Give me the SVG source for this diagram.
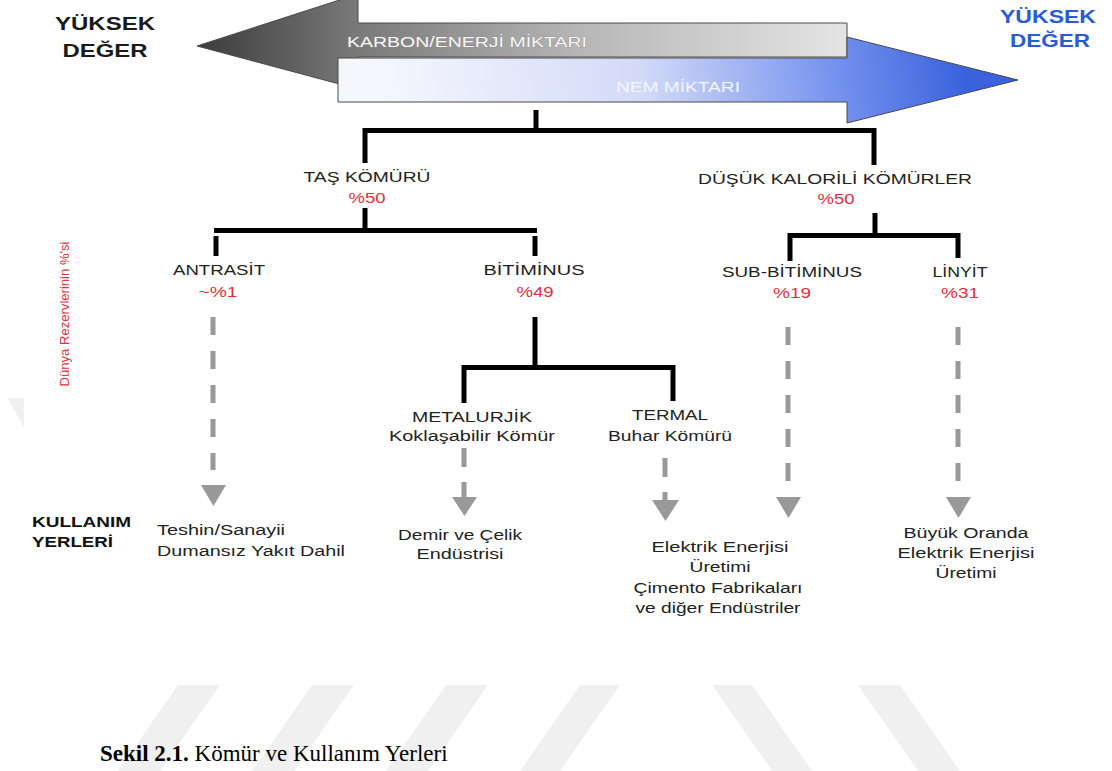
<svg xmlns="http://www.w3.org/2000/svg" width="1112" height="771" viewBox="0 0 1112 771">
<defs>
<style>
.lbl{font-family:"Liberation Sans",Arial,sans-serif;font-size:14px;fill:#222;text-anchor:middle}
.pct{font-family:"Liberation Sans",Arial,sans-serif;font-size:14px;fill:#e0303c;text-anchor:middle}
.use{font-family:"Liberation Sans",Arial,sans-serif;font-size:14px;fill:#222;text-anchor:middle}
.hd{font-family:"Liberation Sans",Arial,sans-serif;font-size:19px;font-weight:bold;text-anchor:middle}
.blk{fill:none;stroke:#000;stroke-width:5}
.dash{fill:none;stroke:#999;stroke-width:5}
.tri{fill:#999}
.wm{fill:#f0f0f0}
</style>
<linearGradient id="gGray" gradientUnits="userSpaceOnUse" x1="197" y1="0" x2="847" y2="0">
<stop offset="0" stop-color="#3c3c3c"/>
<stop offset="0.25" stop-color="#7a7a7a"/>
<stop offset="0.6" stop-color="#b8b8b8"/>
<stop offset="1" stop-color="#e4e4e4"/>
</linearGradient>
<linearGradient id="gBlue" gradientUnits="userSpaceOnUse" x1="380" y1="110" x2="960" y2="30">
<stop offset="0" stop-color="#f6f7fd"/>
<stop offset="0.45" stop-color="#d2daf8"/>
<stop offset="0.8" stop-color="#6f8ded"/>
<stop offset="1" stop-color="#3a62dc"/>
</linearGradient>
</defs>
<rect width="1112" height="771" fill="#fff"/>

<g id="watermark">
<polygon class="wm" points="7,398 24,398 24,427"/>
<polygon class="wm" points="178,685 220,685 160,771 118,771"/>
<polygon class="wm" points="312,685 354,685 294,771 252,771"/>
<polygon class="wm" points="446,685 488,685 428,771 386,771"/>
<polygon class="wm" points="580,685 620,685 560,771 520,771"/>
<polygon class="wm" points="712,685 752,685 812,771 772,771"/>
<polygon class="wm" points="858,685 900,685 960,771 918,771"/>
</g>

<g id="arrows">
<polygon points="197,46 358,-6 358,23 847,23 847,57 358,57 358,89" fill="url(#gGray)" stroke="#4a4a4a" stroke-width="1"/>
<polygon points="338,58 847,58 847,37 1018,80 847,123 847,102 338,102" fill="url(#gBlue)" stroke="#4a4a4a" stroke-width="1"/>
<text x="467" y="47" font-family="'Liberation Sans',Arial,sans-serif" font-size="14" fill="#f8f8f8" stroke="#8a8a8a" stroke-width="0.6" paint-order="stroke" text-anchor="middle" textLength="240" lengthAdjust="spacingAndGlyphs">KARBON/ENERJİ MİKTARI</text>
<text x="678" y="92" font-family="'Liberation Sans',Arial,sans-serif" font-size="14" fill="#f4f6ff" text-anchor="middle" textLength="124" lengthAdjust="spacingAndGlyphs">NEM MİKTARI</text>
</g>

<g id="hi-left">
<text class="hd" x="105" y="30" fill="#1a1a1a" textLength="100" lengthAdjust="spacingAndGlyphs">YÜKSEK</text>
<text class="hd" x="105" y="57" fill="#1a1a1a" textLength="85" lengthAdjust="spacingAndGlyphs">DEĞER</text>
</g>
<g id="hi-right">
<text class="hd" x="1048" y="23" fill="#2a5bd6" textLength="96" lengthAdjust="spacingAndGlyphs">YÜKSEK</text>
<text class="hd" x="1050" y="47" fill="#2a5bd6" textLength="80" lengthAdjust="spacingAndGlyphs">DEĞER</text>
</g>

<g id="connectors">
<path class="blk" d="M536 110 V130"/>
<path class="blk" d="M365 163 V130.5 H874 V165"/>
<path class="blk" d="M365 208 V230"/>
<path class="blk" d="M214 230.5 H537"/>
<path class="blk" d="M216 236 V256"/>
<path class="blk" d="M535 236 V256"/>
<path class="blk" d="M535 317 V367"/>
<path class="blk" d="M464 403 V367.5 H673 V401"/>
<path class="blk" d="M875 213 V235"/>
<path class="blk" d="M790 261 V235.5 H958 V258"/>
<path class="dash" d="M213 317 V470" stroke-dasharray="18 16"/>
<polygon class="tri" points="201,485 226,485 213.5,506"/>
<path class="dash" d="M464 448 V467 M464 482 V500"/>
<polygon class="tri" points="452,497 477,497 464.5,516"/>
<path class="dash" d="M665 458 V477 M665 492 V502"/>
<polygon class="tri" points="652,500 679,500 665.5,521"/>
<path class="dash" d="M788 327 V482" stroke-dasharray="18 16"/>
<polygon class="tri" points="776,497 801,497 788.5,518"/>
<path class="dash" d="M958 327 V482" stroke-dasharray="18 16"/>
<polygon class="tri" points="946,497 971,497 958.5,518"/>
</g>

<g id="tas-komuru">
<text class="lbl" x="367" y="182" textLength="127" lengthAdjust="spacingAndGlyphs">TAŞ KÖMÜRÜ</text>
<text class="pct" x="367" y="203" textLength="37" lengthAdjust="spacingAndGlyphs">%50</text>
</g>
<g id="dusuk-kalorili">
<text class="lbl" x="835" y="184" textLength="274" lengthAdjust="spacingAndGlyphs">DÜŞÜK KALORİLİ KÖMÜRLER</text>
<text class="pct" x="836" y="204" textLength="37" lengthAdjust="spacingAndGlyphs">%50</text>
</g>
<g id="antrasit">
<text class="lbl" x="219" y="275" textLength="92" lengthAdjust="spacingAndGlyphs">ANTRASİT</text>
<text class="pct" x="218" y="297" textLength="39" lengthAdjust="spacingAndGlyphs">~%1</text>
</g>
<g id="bitiminus">
<text class="lbl" x="534" y="275" textLength="101" lengthAdjust="spacingAndGlyphs">BİTİMİNUS</text>
<text class="pct" x="535" y="297" textLength="37" lengthAdjust="spacingAndGlyphs">%49</text>
</g>
<g id="sub-bitiminus">
<text class="lbl" x="792" y="277" textLength="140" lengthAdjust="spacingAndGlyphs">SUB-BİTİMİNUS</text>
<text class="pct" x="792" y="298" textLength="38" lengthAdjust="spacingAndGlyphs">%19</text>
</g>
<g id="linyit">
<text class="lbl" x="960" y="277" textLength="55" lengthAdjust="spacingAndGlyphs">LİNYİT</text>
<text class="pct" x="960" y="298" textLength="38" lengthAdjust="spacingAndGlyphs">%31</text>
</g>
<g id="metalurjik">
<text class="lbl" x="472" y="422" textLength="120" lengthAdjust="spacingAndGlyphs">METALURJİK</text>
<text class="lbl" x="472" y="441" textLength="166" lengthAdjust="spacingAndGlyphs">Koklaşabilir Kömür</text>
</g>
<g id="termal">
<text class="lbl" x="670" y="420" textLength="76" lengthAdjust="spacingAndGlyphs">TERMAL</text>
<text class="lbl" x="670" y="441" textLength="124" lengthAdjust="spacingAndGlyphs">Buhar Kömürü</text>
</g>

<g id="rezerv-label">
<text transform="translate(69,314) rotate(-90)" font-family="'Liberation Sans',Arial,sans-serif" font-size="12" fill="#e0303c" text-anchor="middle" textLength="145" lengthAdjust="spacingAndGlyphs">Dünya Rezervlerinin %'si</text>
</g>

<g id="kullanim">
<text x="32" y="527" font-family="'Liberation Sans',Arial,sans-serif" font-size="14" font-weight="bold" fill="#111" textLength="99" lengthAdjust="spacingAndGlyphs">KULLANIM</text>
<text x="32" y="547" font-family="'Liberation Sans',Arial,sans-serif" font-size="14" font-weight="bold" fill="#111" textLength="81" lengthAdjust="spacingAndGlyphs">YERLERİ</text>
</g>
<g id="use-antrasit">
<text x="157" y="535" font-family="'Liberation Sans',Arial,sans-serif" font-size="14" fill="#222" textLength="128" lengthAdjust="spacingAndGlyphs">Teshin/Sanayii</text>
<text x="157" y="556" font-family="'Liberation Sans',Arial,sans-serif" font-size="14" fill="#222" textLength="188" lengthAdjust="spacingAndGlyphs">Dumansız  Yakıt Dahil</text>
</g>
<g id="use-metalurjik">
<text class="use" x="460" y="540" textLength="124" lengthAdjust="spacingAndGlyphs">Demir ve Çelik</text>
<text class="use" x="460" y="559" textLength="87" lengthAdjust="spacingAndGlyphs">Endüstrisi</text>
</g>
<g id="use-termal">
<text class="use" x="720" y="552" textLength="137" lengthAdjust="spacingAndGlyphs">Elektrik Enerjisi</text>
<text class="use" x="720" y="572" textLength="61" lengthAdjust="spacingAndGlyphs">Üretimi</text>
<text class="use" x="718" y="593" textLength="169" lengthAdjust="spacingAndGlyphs">Çimento Fabrikaları</text>
<text class="use" x="718" y="613" textLength="165" lengthAdjust="spacingAndGlyphs">ve diğer Endüstriler</text>
</g>
<g id="use-linyit">
<text class="use" x="966" y="538" textLength="125" lengthAdjust="spacingAndGlyphs">Büyük Oranda</text>
<text class="use" x="966" y="558" textLength="137" lengthAdjust="spacingAndGlyphs">Elektrik Enerjisi</text>
<text class="use" x="966" y="578" textLength="61" lengthAdjust="spacingAndGlyphs">Üretimi</text>
</g>

<g id="caption">
<text x="100" y="761" font-family="'Liberation Serif','Times New Roman',serif" font-size="23" fill="#000"><tspan font-weight="bold">Sekil 2.1.</tspan> Kömür ve Kullanım Yerleri</text>
</g>
</svg>
